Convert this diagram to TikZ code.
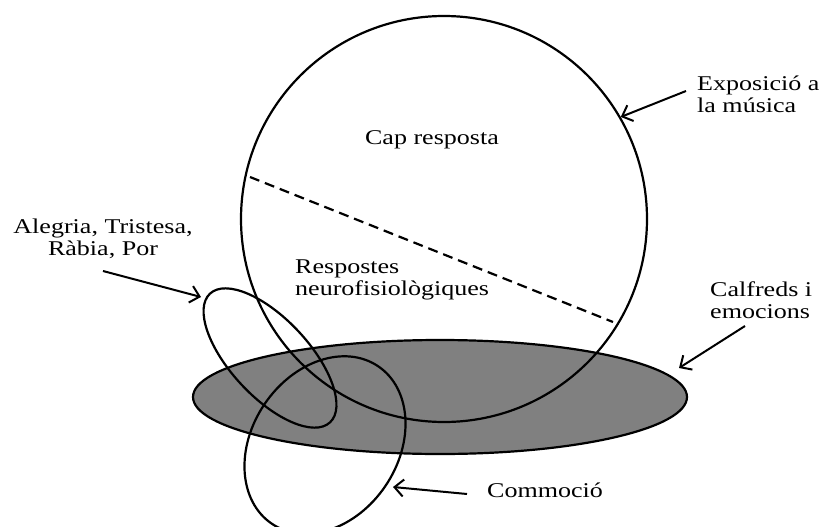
\documentclass[tikz,border=0pt]{standalone}
\usepackage{fontspec}
\setmainfont[FakeStretch=1.24]{Liberation Serif}
\usetikzlibrary{shapes.geometric,arrows.meta}
\definecolor{shade}{RGB}{128,128,128}
\begin{document}
\begin{tikzpicture}[x=1pt,y=-1pt,
  outline/.style={draw=black, line width=2.2pt, inner sep=0pt},
  lbl/.style={inner sep=0pt, font=\fontsize{21}{22}\selectfont},
  pointer/.style={draw=black, line width=2pt, -{Straight Barb[length=9pt,width=17pt]}},
]
\useasboundingbox (0,0) rectangle (819,527);
\fill[white] (0,0) rectangle (819,527);
% shapes
\node[ellipse, outline, fill=shade, minimum width=494pt, minimum height=114pt] (calfreds) at (440,397) {};
\node[circle, outline, minimum size=406pt] (musica) at (444,219) {};
\node[ellipse, outline, minimum width=176pt, minimum height=78pt, rotate=-47] (alegria) at (270,358) {};
\node[ellipse, outline, minimum width=190pt, minimum height=146pt, rotate=56] (commocio) at (325,445) {};
% dashed divider
\coordinate (d1) at (250,177);
\coordinate (d2) at (613,322);
\draw[line width=2.2pt, dash pattern=on 10pt off 6pt] (d1) -- (d2);
% labels (base anchor = baseline of last line)
\node[lbl, anchor=base] (tcap) at (432,144) {Cap resposta};
\node[lbl, anchor=base west, align=left] (tresp) at (295,295) {Respostes\\neurofisiològiques};
\node[lbl, anchor=base, align=center] (talegria) at (103,255) {Alegria, Tristesa,\\Ràbia, Por};
\node[lbl, anchor=base west, align=left] (texpo) at (697,112) {Exposició a\\la música};
\node[lbl, anchor=base west, align=left] (tcalf) at (710,318) {Calfreds i\\emocions};
\node[lbl, anchor=base west] (tcomm) at (487,497) {Commoció};
% pointers
\coordinate (a1) at (103,271);
\coordinate (a1t) at (201,297);
\draw[pointer] (a1) -- (a1t);
\coordinate (a2) at (686,91);
\draw[pointer] (a2) -- (musica.30);
\coordinate (a3) at (745,326);
\coordinate (a3t) at (679,368);
\draw[pointer] (a3) -- (a3t);
\coordinate (a4) at (467,494);
\coordinate (a4t) at (393,487);
\draw[pointer] (a4) -- (a4t);
\end{tikzpicture}
\end{document}
